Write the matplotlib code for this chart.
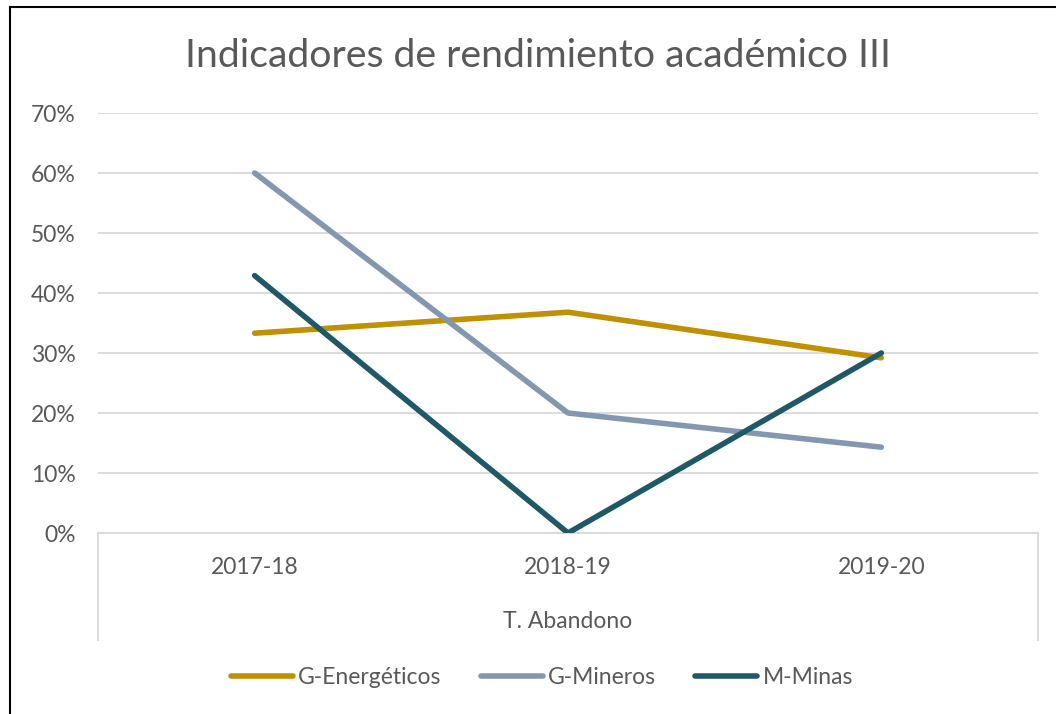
import matplotlib.pyplot as plt
from matplotlib.ticker import PercentFormatter
from matplotlib.lines import Line2D

plt.rcParams['font.family'] = ['Lato', 'DejaVu Sans']

#categories and series values (fractions)
periods = ['2017-18', '2018-19', '2019-20']
g_energeticos = [0.333, 0.368, 0.292]
g_mineros = [0.60, 0.20, 0.143]
m_minas = [0.429, 0.0, 0.30]
series_names = ['G-Energéticos', 'G-Mineros', 'M-Minas']
series_colors = ['#BF9000', '#8497B0', '#1F5866']
group_label = 'T. Abandono'

fig = plt.figure(figsize=(10.56, 7.14), dpi=100)
ax = fig.add_axes([98/1056, 1-533/714, 940/1056, 420/714])

x = range(len(periods))
for vals, name, col in zip([g_energeticos, g_mineros, m_minas], series_names, series_colors):
    ax.plot(x, vals, color=col, lw=4, solid_capstyle='round', label=name, zorder=3)

ax.set_xlim(-0.5, 2.5)
ax.set_ylim(0, 0.7)
ax.set_yticks([i/10 for i in range(8)])
ax.yaxis.set_major_formatter(PercentFormatter(1.0, decimals=0))
ax.grid(axis='y', color='#D9D9D9', lw=1.3)
ax.set_axisbelow(True)
for s in ['top', 'right', 'left']:
    ax.spines[s].set_visible(False)
ax.spines['bottom'].set_color('#D9D9D9')
ax.spines['bottom'].set_linewidth(1.3)
ax.tick_params(axis='both', length=0, labelsize=16.5, colors='#595959')
ax.tick_params(axis='x', pad=17)
ax.tick_params(axis='y', pad=16)
ax.set_xticks(list(x))
ax.set_xticklabels(periods)

#group label and separator lines below the axis
ax.text(0.5, -89/420, group_label, transform=ax.transAxes, ha='center', va='center',
        fontsize=16.5, color='#595959')
for xs in [0, 1]:
    ax.add_line(Line2D([xs, xs], [0, -107/420], transform=ax.transAxes, color='#D9D9D9',
                       lw=1.3, clip_on=False))

fig.text(538/1056, 1-56/714, 'Indicadores de rendimiento académico III', ha='center', va='center',
         fontsize=28.3, color='#595959')

handles = [Line2D([0], [0], color=c, lw=4, solid_capstyle='round') for c in series_colors]
fig.legend(handles, series_names, loc='center', bbox_to_anchor=(542/1056, 1-678/714), ncol=3,
           frameon=False, fontsize=16.5, labelcolor='#595959', handlelength=2.7,
           handletextpad=0.25, columnspacing=1.7)

#frame on top and left edges like the original screenshot
fig.add_artist(Line2D([10/1056, 10/1056], [0, 1-7/714], transform=fig.transFigure, color='black', lw=1.5))
fig.add_artist(Line2D([10/1056, 1], [1-7/714, 1-7/714], transform=fig.transFigure, color='black', lw=1.5))

fig.savefig('out.png', dpi=100, facecolor='white')
